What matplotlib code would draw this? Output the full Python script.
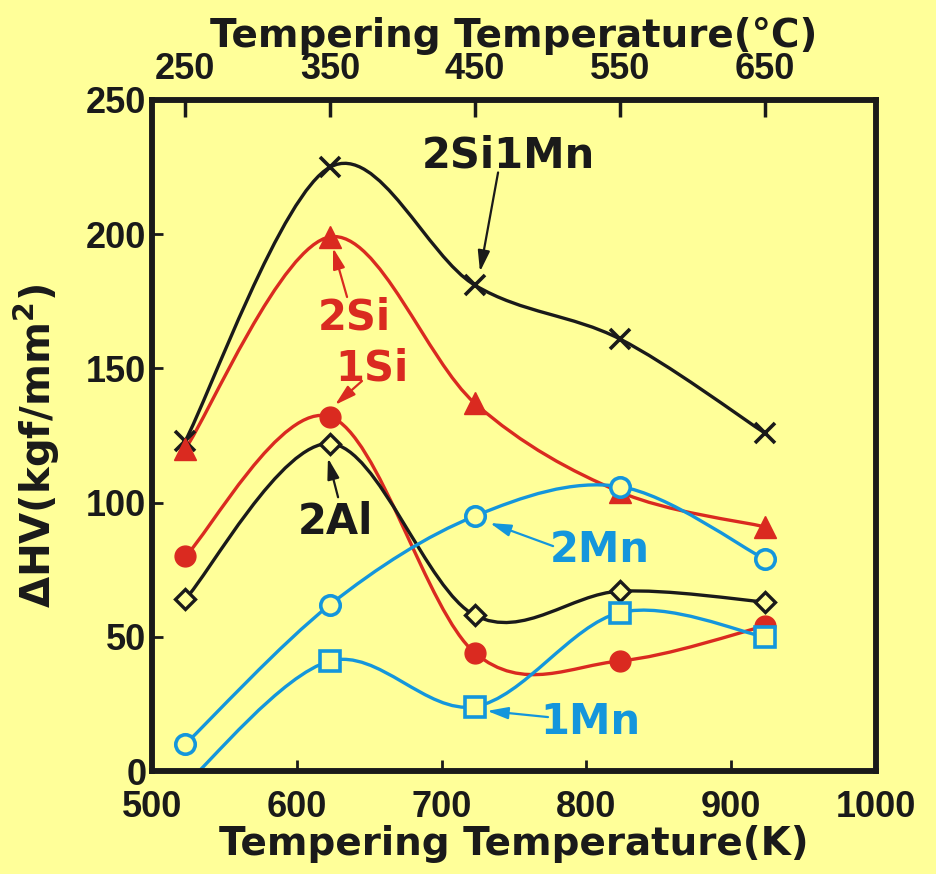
import matplotlib
matplotlib.use('Agg')
import matplotlib.pyplot as plt
from matplotlib.path import Path
from matplotlib.patches import PathPatch

# 数据
temp_k = [523, 623, 723, 823, 923]
hv_2si1mn = [123, 225, 181, 161, 126]
hv_2si = [120, 199, 137, 104, 91]
hv_1si = [80, 132, 44, 41, 54]
hv_2al = [64, 122, 58, 67, 63]
hv_2mn = [10, 62, 95, 106, 79]
hv_1mn = [-5, 41, 24, 59, 50]
temp_c_ticks = [250, 350, 450, 550, 650]

bg = '#FFFF99'
red = '#DA2A20'
blue = '#1496DC'
black = '#1A1A1A'

plt.rcParams['font.family'] = ['DejaVu Sans']
plt.rcParams['font.weight'] = 'bold'


def smooth_curve(ax, xs, ys, color):
    # Catmull-Rom 曲线，用贝塞尔控制点连接各数据点
    pts = list(zip(xs, ys))
    verts = [pts[0]]
    codes = [Path.MOVETO]
    n = len(pts)
    for i in range(n - 1):
        p0 = pts[i - 1] if i > 0 else pts[i]
        p1 = pts[i]
        p2 = pts[i + 1]
        p3 = pts[i + 2] if i + 2 < n else pts[i + 1]
        c1 = (p1[0] + (p2[0] - p0[0]) / 6, p1[1] + (p2[1] - p0[1]) / 6)
        c2 = (p2[0] - (p3[0] - p1[0]) / 6, p2[1] - (p3[1] - p1[1]) / 6)
        verts += [c1, c2, p2]
        codes += [Path.CURVE4] * 3
    ax.add_patch(PathPatch(Path(verts, codes), fc='none', ec=color, lw=2.4, zorder=2))


fig = plt.figure(figsize=(9.36, 8.74), dpi=100, facecolor=bg)
ax = fig.add_axes([0.1624, 0.1178, 0.7735, 0.7678])
ax.set_facecolor(bg)

series = [
    (hv_2si1mn, black, dict(marker='x', ms=15, mew=2.6, mec=black)),
    (hv_2si, red, dict(marker='^', ms=16, mec=red, mfc=red)),
    (hv_1si, red, dict(marker='o', ms=15, mec=red, mfc=red)),
    (hv_2al, black, dict(marker='D', ms=10, mew=2.4, mec=black, mfc=bg)),
    (hv_2mn, blue, dict(marker='o', ms=14, mew=2.6, mec=blue, mfc=bg)),
    (hv_1mn, blue, dict(marker='s', ms=15, mew=2.6, mec=blue, mfc=bg)),
]
for ys, c, mk in series:
    smooth_curve(ax, temp_k, ys, c)
    ax.plot(temp_k, ys, ls='none', zorder=3, **mk)

ax.set_xlim(500, 1000)
ax.set_ylim(0, 250)
ax.set_xticks([500, 600, 700, 800, 900, 1000])
ax.set_yticks([0, 50, 100, 150, 200, 250])
for s in ax.spines.values():
    s.set_linewidth(4)
    s.set_color(black)
ax.tick_params(axis='both', direction='in', length=8, width=2, colors=black,
               labelsize=26, top=False, right=False)
ax.tick_params(axis='x', pad=14)
ax.tick_params(axis='y', pad=4)
for lab in ax.get_xticklabels() + ax.get_yticklabels():
    lab.set_family('Liberation Sans')
    lab.set_fontweight('bold')
ax.set_xlabel('Tempering Temperature(K)', fontsize=28, fontweight='bold', color=black, labelpad=0)
ax.set_ylabel('ΔHV(kgf/mm$^\\mathbf{2}$)', fontsize=29, fontweight='bold', color=black)
ax.yaxis.set_label_coords(-0.124, 0.485)

ax2 = ax.twiny()
ax2.set_xlim(500, 1000)
ax2.set_xticks([c + 273 for c in temp_c_ticks])
ax2.set_xticklabels([str(c) for c in temp_c_ticks])
ax2.tick_params(axis='x', direction='in', length=12, width=2.5, colors=black, labelsize=26, pad=9)
for lab in ax2.get_xticklabels():
    lab.set_family('Liberation Sans')
    lab.set_fontweight('bold')
ax2.set_xlabel('Tempering Temperature(°C)', fontsize=28, fontweight='bold', color=black, labelpad=4)
for s in ax2.spines.values():
    s.set_linewidth(4)
    s.set_color(black)

# 标注
notes = [
    ('2Si1Mn', black, (746, 229.5), (739, 223), (726.5, 186)),
    ('2Si', red, (640, 168.8), (634.7, 176.6), (625, 194.9)),
    ('1Si', red, (652, 150), (645, 145.3), (626.4, 136.4)),
    ('2Al', black, (627, 92.8), (628.5, 102), (621.5, 116.6)),
    ('2Mn', blue, (809.4, 82.3), (777, 83.8), (733.4, 92.4)),
    ('1Mn', blue, (802.5, 18.3), (773.5, 20.1), (731.4, 22.4)),
]
for txt, c, pos, tail, head in notes:
    ax.text(pos[0], pos[1], txt, color=c, fontsize=30, fontweight='bold',
            ha='center', va='center', zorder=4)
    ax.annotate('', xy=head, xytext=tail,
                arrowprops=dict(arrowstyle='-|>,head_length=0.7,head_width=0.2',
                                color=c, lw=1.6, mutation_scale=18, shrinkA=0, shrinkB=0),
                zorder=4)

fig.savefig('out.png', dpi=100, facecolor=bg)
